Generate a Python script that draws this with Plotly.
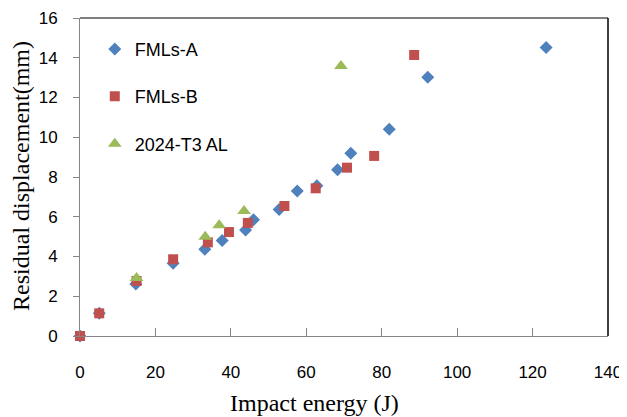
import plotly.graph_objects as go

# FMLs-A (blue diamonds)
a_x = [0, 5.1, 14.8, 24.7, 33.1, 37.7, 43.9, 46.0, 52.8, 57.6, 62.8, 68.3, 71.8, 82.0, 92.2, 123.6]
a_y = [0, 1.14, 2.62, 3.66, 4.36, 4.81, 5.33, 5.85, 6.37, 7.30, 7.56, 8.37, 9.19, 10.40, 13.02, 14.51]
# FMLs-B (red squares)
b_x = [0, 5.1, 15.0, 24.7, 33.9, 39.5, 44.5, 54.2, 62.5, 70.8, 78.0, 88.6]
b_y = [0, 1.14, 2.77, 3.86, 4.71, 5.23, 5.69, 6.54, 7.43, 8.47, 9.06, 14.14]
# 2024-T3 AL (green triangles)
c_x = [15.0, 33.2, 36.9, 43.5, 69.2]
c_y = [2.92, 5.00, 5.57, 6.29, 13.58]

x_ticks = [0, 20, 40, 60, 80, 100, 120, 140]
y_ticks = [0, 2, 4, 6, 8, 10, 12, 14, 16]

names = ["FMLs-A", "FMLs-B", "2024-T3 AL"]
colors = ["#4F81BD", "#C0504D", "#9BBB59"]

fig = go.Figure()
fig.add_trace(go.Scatter(x=a_x, y=a_y, mode="markers", name=names[0], legendgroup="a", cliponaxis=False,
                         marker=dict(symbol="diamond", size=10, color=colors[0])))
fig.add_trace(go.Scatter(x=b_x, y=b_y, mode="markers", name=names[1], legendgroup="b", cliponaxis=False,
                         marker=dict(symbol="square", size=10, color=colors[1])))
fig.add_trace(go.Scatter(x=c_x, y=c_y, mode="markers", name=names[2], legendgroup="c", cliponaxis=False,
                         marker=dict(symbol="triangle-up", size=12, color=colors[2])))

tickfont = dict(family="Liberation Sans, Arial, sans-serif", size=17, color="#000000")
fig.update_layout(
    width=619, height=409,
    margin=dict(l=72, r=19, t=10, b=81, autoexpand=False),
    paper_bgcolor="white", plot_bgcolor="white",
    showlegend=True,
    legend=dict(x=0.028, y=0.96, xanchor="left", yanchor="top",
                font=dict(family="Liberation Sans, Arial, sans-serif", size=18, color="#000000"),
                tracegroupgap=21, traceorder="grouped", bgcolor="rgba(0,0,0,0)"),
    xaxis=dict(range=[0, 140], tickvals=x_ticks, ticktext=[str(v) for v in x_ticks],
               showgrid=False, zeroline=False, showline=True, linecolor="#868686", linewidth=1,
               ticks="inside", ticklen=8, tickcolor="#868686", ticklabelstandoff=21,
               tickfont=tickfont, automargin=False),
    yaxis=dict(range=[0, 16], tickvals=y_ticks, ticktext=[str(v) for v in y_ticks],
               showgrid=False, zeroline=False, showline=True, linecolor="#868686", linewidth=1,
               ticks="outside", ticklen=6, tickcolor="#868686", ticklabelstandoff=12,
               tickfont=tickfont, automargin=False),
    shapes=[
        dict(type="line", xref="paper", yref="paper", x0=0, x1=1, y0=1, y1=1,
             line=dict(color="#000000", width=1)),
        dict(type="line", xref="paper", yref="paper", x0=1, x1=1, y0=0, y1=1,
             line=dict(color="#000000", width=1.5)),
    ],
    annotations=[
        dict(text="Impact energy (J)", xref="paper", yref="paper", x=0.445, y=-0.211,
             xanchor="center", yanchor="middle", showarrow=False,
             font=dict(family="Liberation Serif, Times New Roman, serif", size=24, color="#000000")),
        dict(text="Residual displacement(mm)", xref="paper", yref="paper", x=-0.112, y=0.503,
             xanchor="center", yanchor="middle", showarrow=False, textangle=-90,
             font=dict(family="Liberation Serif, Times New Roman, serif", size=24, color="#000000")),
    ],
)

fig.write_html("out.html")
